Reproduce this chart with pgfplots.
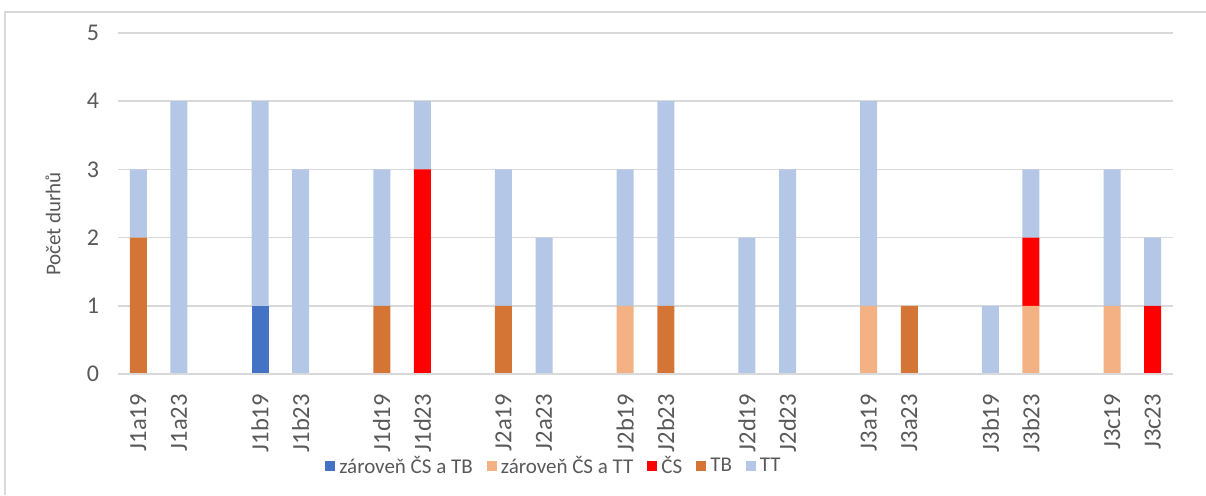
\documentclass[border=0pt]{standalone}
\usepackage{pgfplots}
\pgfplotsset{compat=1.18}
\usepackage{pgfplotstable}
\usepackage{fontspec}
\setmainfont{Carlito}
\definecolor{cZTB}{HTML}{4472C4}
\definecolor{cZTT}{HTML}{F4B183}
\definecolor{cCS}{HTML}{FF0000}
\definecolor{cTB}{HTML}{D57535}
\definecolor{cTT}{HTML}{B4C7E7}
\definecolor{gridc}{HTML}{D9D9D9}
\definecolor{txt}{HTML}{595959}
\pgfplotstableread{
x ZTB ZTT CS TB TT
0 0 0 0 2 1
1 0 0 0 0 4
3 1 0 0 0 3
4 0 0 0 0 3
6 0 0 0 1 2
7 0 0 3 0 1
9 0 0 0 1 2
10 0 0 0 0 2
12 0 1 0 0 2
13 0 0 0 1 3
15 0 0 0 0 2
16 0 0 0 0 3
18 0 1 0 0 3
19 0 0 0 1 0
21 0 0 0 0 1
22 0 1 1 0 1
24 0 1 0 0 2
25 0 0 1 0 1
}\data
\begin{document}
\begin{tikzpicture}
\useasboundingbox (0,0) rectangle (603pt,247.5pt);
\draw[gridc, line width=1pt] (2.5pt,0) -- (2.5pt,241.5pt) -- (603pt,241.5pt);
\begin{axis}[
  at={(59pt,60.5pt)}, anchor=south west,
  scale only axis, width=527.5pt, height=170.5pt,
  ybar stacked, bar width=8.5pt,
  xmin=-0.5, xmax=25.5, ymin=0, ymax=5,
  xtick={0,1,3,4,6,7,9,10,12,13,15,16,18,19,21,22,24,25},
  xticklabels={J1a19,J1a23,J1b19,J1b23,J1d19,J1d23,J2a19,J2a23,J2b19,J2b23,J2d19,J2d23,J3a19,J3a23,J3b19,J3b23,J3c19,J3c23},
  ytick={0,1,2,3,4,5},
  axis line style={draw=none},
  tick style={draw=none},
  ymajorgrids, grid style={gridc, line width=0.75pt},
  /pgf/number format/assume math mode=true,
  xticklabel shift=6.5pt,
  xticklabel style={rotate=90, anchor=east, font=\fontsize{12.3}{14}\selectfont, text=txt},
  yticklabel style={font=\fontsize{12}{14}\selectfont, text=txt, xshift=-6pt},
  ylabel={Počet durhů},
  ylabel style={at={(-0.0616,0.44)}, anchor=center, font=\fontsize{10.5}{12}\selectfont, text=txt},
  legend columns=5,
  legend style={at={(0.4142,-0.2698)}, anchor=center, draw=none, fill=none, font=\fontsize{10.5}{12}\selectfont, text=txt,
    /tikz/every even column/.append style={column sep=5pt}, nodes={inner xsep=2pt, inner ysep=1pt}},
  legend image code/.code={\fill[#1,draw=none] (0pt,-2.5pt) rectangle (5pt,2.5pt);},
  clip=false,
]
\draw[gridc, line width=1pt] (axis cs:-0.5,0) -- (axis cs:25.5,0);
\addplot[fill=cZTB, draw=none] table[x=x, y=ZTB] {\data};
\addlegendentry{zároveň ČS a TB}
\addplot[fill=cZTT, draw=none] table[x=x, y=ZTT] {\data};
\addlegendentry{zároveň ČS a TT}
\addplot[fill=cCS, draw=none] table[x=x, y=CS] {\data};
\addlegendentry{ČS}
\addplot[fill=cTB, draw=none] table[x=x, y=TB] {\data};
\addlegendentry{TB}
\addplot[fill=cTT, draw=none] table[x=x, y=TT] {\data};
\addlegendentry{TT}
\end{axis}
\end{tikzpicture}
\end{document}
